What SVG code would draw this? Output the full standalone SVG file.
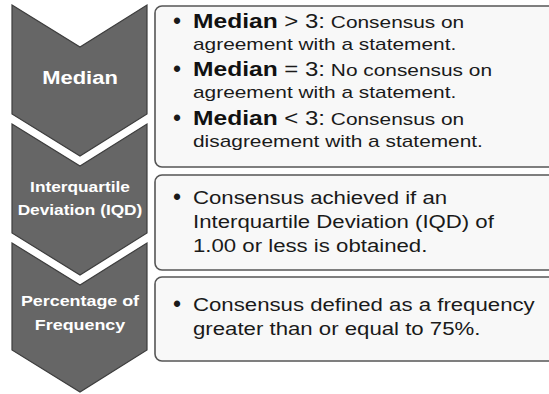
<svg xmlns="http://www.w3.org/2000/svg" width="549" height="394" viewBox="0 0 549 394">
<style>
.chev{fill:#666666;stroke:#3d3d3d;stroke-width:1.2;stroke-linejoin:miter}
.box{fill:#f8f8f8;stroke:#555555;stroke-width:1.6}
.lab{font-family:"Liberation Sans",Arial,sans-serif;font-weight:bold;fill:#ffffff;text-anchor:middle}
.txt{font-family:"Liberation Sans",Arial,sans-serif;fill:#1a1a1a}
.b{font-weight:bold;font-size:20.5px;fill:#111}
.m{font-size:20px}
.bul{font-family:"Liberation Sans",Arial,sans-serif;fill:#1a1a1a;text-anchor:middle;font-size:23px}
</style>
<rect width="549" height="394" fill="#ffffff"/>
<g id="connectors"></g>
<g id="chevron-median">
<path class="chev" d="M12,5 L80,47 L147,5 L147,114 L80,156 L12,114 Z"/>
<text class="lab" font-size="18.3" transform="translate(80,84) scale(1.2,1)">Median</text>
</g>
<g id="chevron-iqd">
<path class="chev" d="M12,124 L80,166 L147,124 L147,233 L80,275 L12,233 Z"/>
<text class="lab" font-size="14.4" transform="translate(80,192) scale(1.2,1)">Interquartile</text>
<text class="lab" font-size="14.4" transform="translate(80,215) scale(1.2,1)">Deviation (IQD)</text>
</g>
<g id="chevron-percentage">
<path class="chev" d="M12,243 L80,285 L147,243 L147,350 L80,392 L12,350 Z"/>
<text class="lab" font-size="14.9" transform="translate(80,306) scale(1.2,1)">Percentage of</text>
<text class="lab" font-size="14.9" transform="translate(80,330) scale(1.2,1)">Frequency</text>
</g>
<g id="box-median">
<rect class="box" x="155" y="6" width="410" height="161" rx="7"/>
<text class="bul" x="177" y="29">•</text>
<text class="txt" font-size="17.4" transform="translate(193,28) scale(1.2,1)"><tspan class="b">Median</tspan><tspan class="m"> &gt; 3:</tspan> Consensus on</text>
<text class="txt" font-size="17.4" transform="translate(193,50) scale(1.2,1)">agreement with a statement.</text>
<text class="bul" x="177" y="77">•</text>
<text class="txt" font-size="17.4" transform="translate(193,76) scale(1.2,1)"><tspan class="b">Median</tspan><tspan class="m"> = 3:</tspan> No consensus on</text>
<text class="txt" font-size="17.4" transform="translate(193,98) scale(1.2,1)">agreement with a statement.</text>
<text class="bul" x="177" y="126">•</text>
<text class="txt" font-size="17.4" transform="translate(193,125) scale(1.2,1)"><tspan class="b">Median</tspan><tspan class="m"> &lt; 3:</tspan> Consensus on</text>
<text class="txt" font-size="17.4" transform="translate(193,147) scale(1.2,1)">disagreement with a statement.</text>
</g>
<g id="box-iqd">
<rect class="box" x="155" y="175" width="410" height="95" rx="7"/>
<text class="bul" x="177" y="205">•</text>
<text class="txt" font-size="18.5" transform="translate(193,204) scale(1.2,1)">Consensus achieved if an</text>
<text class="txt" font-size="18.5" transform="translate(193,228) scale(1.2,1)">Interquartile Deviation (IQD) of</text>
<text class="txt" font-size="18.5" transform="translate(193,252) scale(1.2,1)">1.00 or less is obtained.</text>
</g>
<g id="box-percentage">
<rect class="box" x="155" y="277" width="410" height="84" rx="7"/>
<text class="bul" x="177" y="312">•</text>
<text class="txt" font-size="18.5" transform="translate(193,311) scale(1.2,1)">Consensus defined as a frequency</text>
<text class="txt" font-size="18.5" transform="translate(193,335) scale(1.2,1)">greater than or equal to 75%.</text>
</g>
</svg>
